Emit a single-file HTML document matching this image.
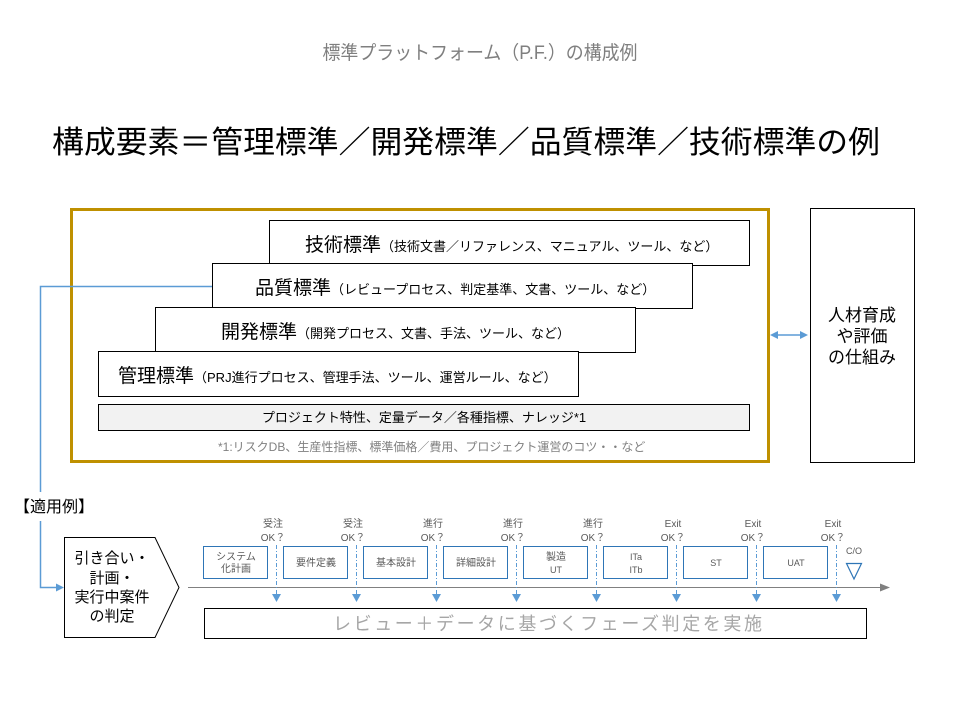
<!DOCTYPE html>
<html><head><meta charset="utf-8"><style>
html,body{margin:0;padding:0;background:#fff}
svg{display:block}
text{font-family:"Liberation Sans","Noto Sans CJK JP",sans-serif}
</style></head><body>
<svg width="960" height="720" viewBox="0 0 960 720" xmlns="http://www.w3.org/2000/svg">
<defs>
<marker id="ab" markerWidth="8" markerHeight="8" refX="6" refY="4" orient="auto" markerUnits="userSpaceOnUse"><path d="M0,0 L8,4 L0,8 z" fill="#5b9bd5"/></marker>
<marker id="ab2" markerWidth="8" markerHeight="8" refX="2" refY="4" orient="auto" markerUnits="userSpaceOnUse"><path d="M8,0 L0,4 L8,8 z" fill="#5b9bd5"/></marker>
<marker id="ag" markerWidth="10" markerHeight="8" refX="8" refY="4" orient="auto" markerUnits="userSpaceOnUse"><path d="M0,0 L10,4 L0,8 z" fill="#808080"/></marker>
</defs>
<text x="480" y="59" font-size="19" fill="#7f7f7f" text-anchor="middle" textLength="315" lengthAdjust="spacingAndGlyphs">標準プラットフォーム（P.F.）の構成例</text>
<text x="52" y="153" font-size="31" fill="#000" textLength="828" lengthAdjust="spacingAndGlyphs">構成要素＝管理標準／開発標準／品質標準／技術標準の例</text>

<rect x="71.5" y="209.5" width="697" height="252" fill="none" stroke="#bf9000" stroke-width="3"/>
<rect x="269.5" y="220.5" width="480" height="45" fill="#fff" stroke="#000"/>
<text x="305" y="251" font-size="19">技術標準<tspan font-size="13">（技術文書／リファレンス、マニュアル、ツール、など）</tspan></text>
<rect x="212.5" y="263.5" width="480" height="45" fill="#fff" stroke="#000"/>
<text x="255" y="294" font-size="19">品質標準<tspan font-size="13">（レビュープロセス、判定基準、文書、ツール、など）</tspan></text>
<rect x="155.5" y="307.5" width="480" height="45" fill="#fff" stroke="#000"/>
<text x="221" y="338" font-size="19">開発標準<tspan font-size="13">（開発プロセス、文書、手法、ツール、など）</tspan></text>
<rect x="98.5" y="351.5" width="480" height="45" fill="#fff" stroke="#000"/>
<text x="118" y="382" font-size="19">管理標準<tspan font-size="13">（PRJ進行プロセス、管理手法、ツール、運営ルール、など）</tspan></text>
<rect x="98.5" y="404.5" width="651" height="26" fill="#f2f2f2" stroke="#000"/>
<text x="424" y="422" font-size="13" text-anchor="middle">プロジェクト特性、定量データ／各種指標、ナレッジ*1</text>
<text x="218" y="451" font-size="12" fill="#808080">*1:リスクDB、生産性指標、標準価格／費用、プロジェクト運営のコツ・・など</text>

<rect x="810.5" y="208.5" width="104" height="254" fill="#fff" stroke="#000"/>
<text x="862" y="321" font-size="17" text-anchor="middle">人材育成</text>
<text x="862" y="342" font-size="17" text-anchor="middle">や評価</text>
<text x="862" y="363" font-size="17" text-anchor="middle">の仕組み</text>
<line x1="772" y1="335" x2="806" y2="335" stroke="#5b9bd5" stroke-width="1.5" marker-start="url(#ab2)" marker-end="url(#ab)"/>

<polyline points="212,286.5 40.5,286.5 40.5,492" fill="none" stroke="#5b9bd5" stroke-width="1.5"/>
<text x="14" y="512" font-size="16">【適用例】</text>
<polyline points="40.5,521 40.5,587.5 62,587.5" fill="none" stroke="#5b9bd5" stroke-width="1.5" marker-end="url(#ab)"/>
<polygon points="64.5,537.5 155,537.5 179,587.5 155,637.5 64.5,637.5" fill="#fff" stroke="#000"/>
<text x="112" y="563" font-size="15" text-anchor="middle">引き合い・</text>
<text x="112" y="583" font-size="15" text-anchor="middle">計画・</text>
<text x="112" y="602" font-size="15" text-anchor="middle">実行中案件</text>
<text x="112" y="621" font-size="15" text-anchor="middle">の判定</text>

<line x1="188" y1="587.5" x2="888" y2="587.5" stroke="#808080" stroke-width="1" marker-end="url(#ag)"/>

<g font-size="10" fill="#595959" text-anchor="middle">
<rect x="203.5" y="546.5" width="64" height="32" fill="#fff" stroke="#2e75b6"/><text x="236" y="560">システム</text><text x="236" y="572">化計画</text>
<rect x="283.5" y="546.5" width="64" height="32" fill="#fff" stroke="#2e75b6"/><text x="316" y="566">要件定義</text>
<rect x="363.5" y="546.5" width="64" height="32" fill="#fff" stroke="#2e75b6"/><text x="396" y="566">基本設計</text>
<rect x="443.5" y="546.5" width="64" height="32" fill="#fff" stroke="#2e75b6"/><text x="476" y="566">詳細設計</text>
<rect x="523.5" y="546.5" width="64" height="32" fill="#fff" stroke="#2e75b6"/><text x="556" y="560">製造</text><text x="556" y="573" font-size="9">UT</text>
<rect x="603.5" y="546.5" width="64" height="32" fill="#fff" stroke="#2e75b6"/><text x="636" y="560" font-size="9">ITa</text><text x="636" y="573" font-size="9">ITb</text>
<rect x="683.5" y="546.5" width="64" height="32" fill="#fff" stroke="#2e75b6"/><text x="716" y="566" font-size="9">ST</text>
<rect x="763.5" y="546.5" width="64" height="32" fill="#fff" stroke="#2e75b6"/><text x="796" y="566" font-size="9">UAT</text>
</g>

<g stroke="#5b9bd5" stroke-width="1" stroke-dasharray="4,2,1,2">
<line x1="276.5" y1="545" x2="276.5" y2="594"/><line x1="356.5" y1="545" x2="356.5" y2="594"/>
<line x1="436.5" y1="545" x2="436.5" y2="594"/><line x1="516.5" y1="545" x2="516.5" y2="594"/>
<line x1="596.5" y1="545" x2="596.5" y2="594"/><line x1="676.5" y1="545" x2="676.5" y2="594"/>
<line x1="756.5" y1="545" x2="756.5" y2="594"/><line x1="836.5" y1="545" x2="836.5" y2="594"/>
</g>
<g fill="#5b9bd5">
<path d="M272,594 L281,594 L276.5,602z"/><path d="M352,594 L361,594 L356.5,602z"/>
<path d="M432,594 L441,594 L436.5,602z"/><path d="M512,594 L521,594 L516.5,602z"/>
<path d="M592,594 L601,594 L596.5,602z"/><path d="M672,594 L681,594 L676.5,602z"/>
<path d="M752,594 L761,594 L756.5,602z"/><path d="M832,594 L841,594 L836.5,602z"/>
</g>
<g font-size="10" fill="#595959" text-anchor="middle">
<text x="273" y="527">受注</text><text x="273" y="541">OK？</text>
<text x="353" y="527">受注</text><text x="353" y="541">OK？</text>
<text x="433" y="527">進行</text><text x="433" y="541">OK？</text>
<text x="513" y="527">進行</text><text x="513" y="541">OK？</text>
<text x="593" y="527">進行</text><text x="593" y="541">OK？</text>
<text x="673" y="527">Exit</text><text x="673" y="541">OK？</text>
<text x="753" y="527">Exit</text><text x="753" y="541">OK？</text>
<text x="833" y="527">Exit</text><text x="833" y="541">OK？</text>
<text x="854" y="554" font-size="9">C/O</text>
</g>
<polygon points="846.5,563.5 861.5,563.5 854,579" fill="#fff" stroke="#2e75b6" stroke-width="1.2"/>

<rect x="204.5" y="608.5" width="662" height="30" fill="#fff" stroke="#000"/>
<text x="333" y="630" font-size="18" fill="#a6a6a6" textLength="429" lengthAdjust="spacing">レビュー＋データに基づくフェーズ判定を実施</text>
</svg>
</body></html>
